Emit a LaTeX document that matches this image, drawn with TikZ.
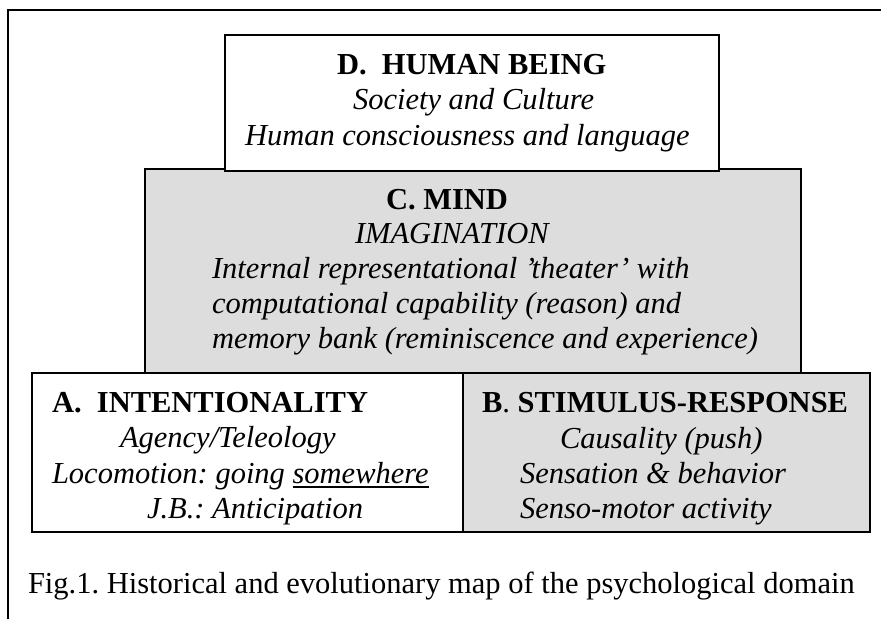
\documentclass[tikz,border=0pt]{standalone}
\usepackage{fontspec}
\setmainfont{Liberation Serif}
\definecolor{boxgray}{RGB}{221,221,221}
\frenchspacing
\begin{document}
\begin{tikzpicture}[x=1pt,y=-1pt,
  panel/.style={draw=black, line width=2pt, inner sep=0pt, outer sep=0pt, anchor=north west},
  plain/.style={panel, fill=white},
  shaded/.style={panel, fill=boxgray},
  txt/.style={inner sep=0pt, outer sep=0pt, anchor=base west, font=\fontsize{30.5}{36}\selectfont},
  head/.style={txt, font=\fontsize{30.5}{36}\selectfont\bfseries},
  note/.style={txt, font=\fontsize{30.5}{36}\selectfont\itshape},
  frameline/.style={line width=1.5pt},
  uline/.style={line width=1.5pt}
]
\useasboundingbox (0,0) rectangle (881,619);

% outer frame (top and left edges)
\coordinate (frTL) at (8,10);
\coordinate (frTR) at (881,10);
\coordinate (frBL) at (8,619);
\draw[frameline] (frBL) -- (frTL) -- (frTR);

% level boxes
\node[shaded, minimum width=656pt, minimum height=204pt] (C) at (145,169) {};
\node[plain,  minimum width=494pt, minimum height=136pt] (D) at (225,35) {};
\node[plain,  minimum width=431pt, minimum height=159pt] (A) at (32,373) {};
\node[shaded, minimum width=407pt, minimum height=159pt] (B) at (463,373) {};

% D. Human being
\node[head] (dT) at (337,74) {D.\ \ HUMAN BEING};
\node[note] (dS) at (353,109) {Society and Culture};
\node[note] (dH) at (245,145) {Human consciousness and language};

% C. Mind
\node[head] (cT) at (386,209) {C. MIND};
\node[note] (cI) at (355,243) {IMAGINATION};
\node[note] (c1) at (212,278) {Internal representational 'theater' with};
\node[note] (c2) at (212,313) {computational capability (reason) and};
\node[note] (c3) at (212,348) {memory bank (reminiscence and experience)};

% A. Intentionality
\node[head] (aT) at (52,412) {A.\ \ INTENTIONALITY};
\node[note] (a1) at (120,447) {Agency/Teleology};
\node[note] (a2) at (52,483) {Locomotion: going};
\node[note, anchor=base west] (a2s) at ([xshift=7.6pt]a2.base east) {somewhere};
\draw[uline] ([yshift=-4pt]a2s.base west) -- ([yshift=-4pt]a2s.base east);
\node[note] (a3) at (147,518) {J.B.: Anticipation};

% B. Stimulus-response
\node[txt] (bT) at (482,412) {\textbf{B}.\textbf{ STIMULUS-RESPONSE}};
\node[note] (b1) at (560,448) {Causality (push)};
\node[note] (b2) at (520,483) {Sensation \& behavior};
\node[note] (b3) at (520,518) {Senso-motor activity};

% caption
\node[txt] (cap) at (28,593) {Fig.1. Historical and evolutionary map of the psychological domain};
\end{tikzpicture}
\end{document}
